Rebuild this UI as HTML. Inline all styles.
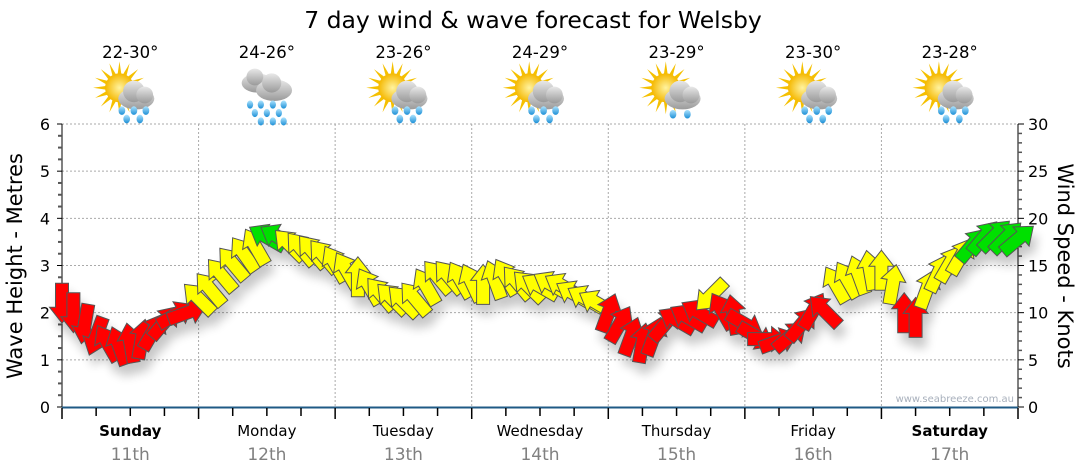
<!DOCTYPE html>
<html><head><meta charset="utf-8"><style>
html,body{margin:0;padding:0;background:#fff;width:1080px;height:475px;overflow:hidden}
svg{display:block}
text{font-family:"DejaVu Sans","Liberation Sans",sans-serif}
</style></head><body>
<svg id="chart" width="1080" height="475" viewBox="0 0 1080 475" xmlns="http://www.w3.org/2000/svg">
<defs>
<filter id="shadow" x="-50%" y="-50%" width="200%" height="200%">
<feGaussianBlur in="SourceAlpha" stdDeviation="5"/>
<feOffset dx="4" dy="10" result="b"/>
<feComponentTransfer><feFuncA type="linear" slope="0.22"/></feComponentTransfer>
<feMerge><feMergeNode/><feMergeNode in="SourceGraphic"/></feMerge>
</filter>
<radialGradient id="sunG" cx="0.5" cy="0.5" r="0.5"><stop offset="0" stop-color="#fff3a0"/><stop offset="1" stop-color="#f5b800"/></radialGradient>
<linearGradient id="cloudG" x1="0" y1="0" x2="0" y2="1"><stop offset="0" stop-color="#e8e8e8"/><stop offset="1" stop-color="#9a9a9a"/></linearGradient>
<linearGradient id="dropG" x1="0" y1="0" x2="0" y2="1"><stop offset="0" stop-color="#aee4ff"/><stop offset="1" stop-color="#1c8fd6"/></linearGradient>
</defs>
<text x="533" y="28" font-size="23.5" text-anchor="middle" fill="#000">7 day wind &amp; wave forecast for Welsby</text>
<g id="grid"></g>
<g id="axes"></g>
<g id="icons"></g>
<g id="arrows" filter="url(#shadow)"></g>
<text x="1014" y="402" font-size="10" text-anchor="end" fill="#a8b0bc">www.seabreeze.com.au</text>
<text transform="translate(22,266) rotate(-90)" font-size="21" text-anchor="middle" fill="#000">Wave Height - Metres</text>
<text transform="translate(1058,266) rotate(90)" font-size="21" text-anchor="middle" fill="#000">Wind Speed - Knots</text>
</svg>
<script>
const dayNames=["Sunday","Monday","Tuesday","Wednesday","Thursday","Friday","Saturday"];
const dayDates=["11th","12th","13th","14th","15th","16th","17th"];
const dayBold=[true,false,false,false,false,false,true];
const tempRanges=["22-30°","24-26°","23-26°","24-29°","23-29°","23-30°","23-28°"];
const iconTypes=["sunrain","rain","sunrain","sunrain","sunshower","sunrain","sunrain"];
const leftTicks=[0,1,2,3,4,5,6];
const rightTicks=[0,5,10,15,20,25,30];
const hours=[0,2,4,6,8,10,12,14,16,18,20,22,24,26,28,30,32,34,36,38,40,42,44,46,48,50,52,54,56,58,60,62,64,66,68,70,72,74,76,78,80,82,84,86,88,90,92,94,96,98,100,102,104,106,108,110,112,114,116,118,120,122,124,126,128,130,132,134,136,138,140,142,144,146,148,150,152,154,156,158,160,162,164,166,168];
const speeds=[11,10,8.8,7.5,6.8,6.5,6.8,7.2,8,9,9.8,10,11.5,12.5,14,15.2,16.2,17,18,18,17.2,16.8,16.5,16,15.2,14.5,13.8,12.8,12,11.5,11.2,11.5,12.8,13.8,13.8,13.5,13.2,13,13.5,13.8,13.2,12.8,12.8,13,12.8,12,11.5,11,10,8.8,7.5,6.8,7.5,8.8,9.2,9.5,10,11.8,10.2,9.8,8.8,7.5,7.2,7,7.5,8.8,10.2,10.2,13,13.5,14,14.5,14.5,13,10,9.5,12.5,14.2,15.2,16,17.2,18,18.2,18,17.8];
const dirs=[180,180,190,200,330,340,350,10,30,40,60,70,315,320,320,320,325,330,300,300,315,320,320,320,330,330,0,330,320,315,315,320,330,320,320,330,335,0,340,330,320,315,300,300,300,300,300,300,20,30,20,10,20,40,300,300,300,225,330,350,120,120,90,70,50,40,30,315,330,330,340,350,0,10,0,0,20,25,30,30,40,40,45,45,50];
const colors=["r","r","r","r","r","r","r","r","r","r","r","r","y","y","y","y","y","y","g","g","y","y","y","y","y","y","y","y","y","y","y","y","y","y","y","y","y","y","y","y","y","y","y","y","y","y","y","y","r","r","r","r","r","r","r","r","r","y","r","r","r","r","r","r","r","r","r","r","y","y","y","y","y","y","r","r","y","y","y","y","g","g","g","g","g"];
const NS="http://www.w3.org/2000/svg";
const X0=62,X1=1018,Y0=407,Y1=124;
const xScale=h=>X0+(X1-X0)*h/168;
const yLeft=m=>Y0-(Y0-Y1)*m/6;
const yRight=k=>Y0-(Y0-Y1)*k/30;
function mk(tag,attrs,parent){const e=document.createElementNS(NS,tag);for(const k in attrs)e.setAttribute(k,attrs[k]);parent.appendChild(e);return e;}
const grid=document.getElementById('grid'),axes=document.getElementById('axes'),icons=document.getElementById('icons'),arrows=document.getElementById('arrows');
leftTicks.forEach(v=>{if(v>0){const l=mk('line',{x1:X0,x2:X1,y1:yLeft(v),y2:yLeft(v),stroke:'#aaa','stroke-dasharray':'2,2','stroke-width':1},grid);}});
for(let d=1;d<7;d++){const x=xScale(d*24);const l=mk('line',{x1:x,x2:x,y1:Y1,y2:Y0,stroke:'#aaa','stroke-dasharray':'2,2','stroke-width':1},grid);}
mk('line',{x1:X0,x2:X0,y1:Y1,y2:Y0,stroke:'#000','stroke-width':1},axes);
mk('line',{x1:X1,x2:X1,y1:Y1,y2:Y0,stroke:'#000','stroke-width':1},axes);
mk('line',{x1:X0,x2:X1,y1:Y0+0.5,y2:Y0+0.5,stroke:'#1f5a85','stroke-width':2},axes);
for(let i=0;i<=24;i++){const y=yLeft(i/4);const maj=i%4===0;mk('line',{x1:X0-(maj?5:4),x2:X0,y1:y,y2:y,stroke:maj?'#000':'#555','stroke-width':maj?1:2},axes);}
for(let i=0;i<=30;i++){const y=yRight(i);const maj=i%5===0;mk('line',{x1:X1,x2:X1+(maj?6:4),y1:y,y2:y,stroke:maj?'#000':'#555','stroke-width':maj?1:1.5},axes);}
leftTicks.forEach(v=>{const t=mk('text',{x:50,y:yLeft(v)+6,'font-size':16,'text-anchor':'end',fill:'#000'},axes);t.textContent=v;});
rightTicks.forEach(v=>{const t=mk('text',{x:1028,y:yRight(v)+6,'font-size':16,'text-anchor':'start',fill:'#000'},axes);t.textContent=v;});
for(let i=0;i<=28;i++){const x=xScale(i*6);const maj=i%4===0;mk('line',{x1:x,x2:x,y1:Y0+1,y2:Y0+(maj?12:9),stroke:'#000','stroke-width':1.5},axes);}
dayNames.forEach((n,i)=>{const cx=xScale(i*24+12);
const t=mk('text',{x:cx,y:436,'font-size':15,'text-anchor':'middle',fill:'#000','font-weight':dayBold[i]?'bold':'normal'},axes);t.textContent=n;
const d=mk('text',{x:cx,y:460,'font-size':17,'text-anchor':'middle',fill:'#808080'},axes);d.textContent=dayDates[i];
const tt=mk('text',{x:cx,y:58,'font-size':16.5,'text-anchor':'middle',fill:'#000'},icons);tt.textContent=tempRanges[i];
const g=mk('g',{transform:`translate(${cx},95) scale(1.2)`},icons);
const type=iconTypes[i];
if(type!=='rain'){for(let a=0;a<16;a++){const ang=a*22.5*Math.PI/180;mk('polygon',{points:`${-9+Math.cos(ang)*22},${-6+Math.sin(ang)*22} ${-9+Math.cos(ang+0.15)*11},${-6+Math.sin(ang+0.15)*11} ${-9+Math.cos(ang-0.15)*11},${-6+Math.sin(ang-0.15)*11}`,fill:'#f5c000'},g);}
mk('circle',{cx:-9,cy:-6,r:12,fill:'url(#sunG)'},g);
mk('ellipse',{cx:5,cy:3,rx:15,ry:9,fill:'url(#cloudG)'},g);mk('circle',{cx:3,cy:-3,r:9,fill:'url(#cloudG)'},g);mk('circle',{cx:12,cy:0,r:7,fill:'url(#cloudG)'},g);
const drops=type==='sunshower'?[[-3,16],[9,16]]:[[-7,13],[3,13],[13,13],[-3,20],[8,20]];
drops.forEach(p=>mk('ellipse',{cx:p[0],cy:p[1],rx:2.8,ry:3.6,fill:'url(#dropG)'},g));}
else{mk('ellipse',{cx:-8,cy:-10,rx:13,ry:8,fill:'url(#cloudG)'},g);mk('circle',{cx:-10,cy:-15,r:7,fill:'url(#cloudG)'},g);
mk('ellipse',{cx:6,cy:-4,rx:15,ry:9,fill:'url(#cloudG)'},g);mk('circle',{cx:4,cy:-10,r:8,fill:'url(#cloudG)'},g);
[[-14,8],[-5,8],[5,8],[14,8],[-10,15],[0,15],[10,15],[-5,22],[5,22],[14,22]].forEach(p=>mk('ellipse',{cx:p[0],cy:p[1],rx:2.6,ry:3.4,fill:'url(#dropG)'},g));}
});
const fillMap={r:'#ff0000',y:'#ffff00',g:'#00e000'};
const arrowPts="0,-20 12.5,-4 6.5,-4 6.5,20 -6.5,20 -6.5,-4 -12.5,-4";
hours.forEach((h,i)=>{const p=mk('polygon',{points:arrowPts,transform:`translate(${xScale(h).toFixed(1)},${yRight(speeds[i]).toFixed(1)}) rotate(${dirs[i]})`,fill:fillMap[colors[i]],stroke:'#555','stroke-width':1,'stroke-linejoin':'miter'},arrows);

});
</script>
</body></html>
